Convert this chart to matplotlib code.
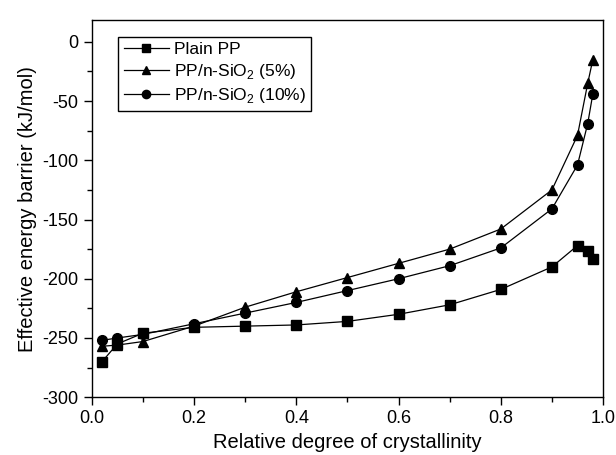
import numpy as np
import matplotlib.pyplot as plt
from matplotlib.ticker import MultipleLocator

plt.rcParams['font.family'] = ['Liberation Sans', 'DejaVu Sans']
plt.rcParams['mathtext.fontset'] = 'custom'
plt.rcParams['mathtext.rm'] = 'Liberation Sans'
plt.rcParams['axes.unicode_minus'] = False

x = [0.02, 0.05, 0.1, 0.2, 0.3, 0.4, 0.5, 0.6, 0.7, 0.8, 0.9, 0.95, 0.97, 0.98]
plain_pp = [-270, -255, -246, -241, -240, -239, -236, -230, -222, -209, -190, -172, -177, -183]
sio2_5 = [-257, -256, -253, -240, -224, -211, -199, -187, -175, -158, -125, -79, -35, -15]
sio2_10 = [-252, -250, -247, -238, -229, -220, -210, -200, -189, -174, -141, -104, -69, -44]

fig = plt.figure(figsize=(6.16, 4.55), dpi=100)
ax = fig.add_axes([0.149, 0.127, 0.830, 0.828])

ax.plot(x, plain_pp, 'k-', marker='s', ms=6.5, lw=0.9, label='Plain PP')
ax.plot(x, sio2_5, 'k-', marker='^', ms=7.5, lw=0.9, label='PP/n-SiO$_2$ (5%)')
ax.plot(x, sio2_10, 'k-', marker='o', ms=7, lw=0.9, label='PP/n-SiO$_2$ (10%)')

ax.set_xlim(0, 1.0)
ax.set_ylim(-300, 18)
ax.xaxis.set_major_locator(MultipleLocator(0.2))
ax.xaxis.set_minor_locator(MultipleLocator(0.1))
ax.yaxis.set_major_locator(MultipleLocator(50))
ax.yaxis.set_minor_locator(MultipleLocator(25))
ax.xaxis.set_major_formatter(plt.FormatStrFormatter('%.1f'))
ax.tick_params(which='both', direction='out', labelsize=13, width=1)
ax.tick_params(which='major', length=6)
ax.tick_params(which='minor', length=3.5)
for s in ax.spines.values():
    s.set_linewidth(1)

ax.set_xlabel('Relative degree of crystallinity', fontsize=14.5)
ax.set_ylabel('Effective energy barrier (kJ/mol)', fontsize=14.5)

leg = ax.legend(loc='upper left', bbox_to_anchor=(0.052, 0.957), borderaxespad=0,
                fontsize=12.5, fancybox=False, edgecolor='black', framealpha=1,
                handlelength=2.6, borderpad=0.3, labelspacing=0.3, handletextpad=0.3,
                markerscale=0.85)
leg.get_frame().set_linewidth(1)

fig.savefig('out.png', dpi=100)
